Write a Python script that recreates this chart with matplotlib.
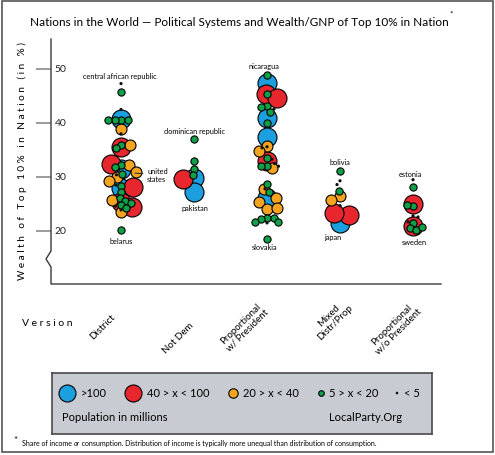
import numpy as np
import matplotlib.pyplot as plt
from matplotlib.patches import Rectangle

W, H = 495, 456

systems = ['District', 'Not Dem', 'Proportional\nw/ President',
           'Mixed\nDistr/Prop', 'Proportional\nw/o President']
pop_classes = ['>100', '40 > x < 100', '20 > x < 40', '5 > x < 20', '< 5']

# wealth share of the top 10% (%), one list per population class (same order as pop_classes)
district = [[40.7, 31.5, 28.0],
            [35.6, 32.5, 28.1, 25.3, 24.4],
            [38.8, 36.0, 32.3, 31.0, 30.0, 29.2, 25.8, 23.5],
            [45.7, 40.5, 40.5, 40.5, 40.5, 36.0, 35.4, 32.2, 31.8, 30.6,
             28.4, 27.2, 26.1, 25.6, 25.2, 24.8, 24.2, 20.1],
            [47.3, 42.5, 38.0, 30.4, 28.5, 24.6, 23.9]]
not_dem = [[29.9, 27.3],
           [29.6],
           [],
           [37.0, 32.9, 31.5, 30.4],
           []]
prop_pres = [[47.5, 40.9, 37.5, 26.2],
             [45.4, 44.6, 33.0],
             [35.7, 34.9, 31.6, 27.8, 26.2, 25.4, 24.1, 24.2],
             [48.8, 45.3, 43.1, 42.9, 42.1, 40.0, 33.5, 32.1, 32.0, 28.7,
              27.3, 22.4, 22.4, 22.2, 21.6, 21.6, 18.6],
             [42.6, 35.6, 35.4, 33.3, 32.5, 32.0, 27.8, 21.5]]
mixed = [[21.5],
         [23.0, 23.3],
         [26.4, 25.8],
         [31.2, 27.4],
         [29.3, 28.6, 24.7]]
prop_no_pres = [[],
                [25.0, 20.9],
                [],
                [28.2, 24.7, 24.9, 21.5, 20.5, 20.2, 20.7],
                [29.5, 22.8, 22.6, 21.7]]
system_data = [district, not_dem, prop_pres, mixed, prop_no_pres]

named = ['central african republic', 'belarus', 'united\nstates', 'dominican republic',
         'pakistan', 'nicaragua', 'slovakia', 'bolivia', 'japan', 'estonia', 'sweden']
named_system = [0, 0, 0, 1, 1, 2, 2, 3, 3, 4, 4]
named_wealth = [47.3, 20.1, 30.4, 37.0, 27.3, 48.8, 18.6, 31.2, 21.5, 29.5, 20.9]
# label offset from the point, in pixels
named_offset = [(-1, 8), (0, -10), (12, -1), (0, 9), (1, -15.5), (-3, 9.5),
                (-2, -8), (0, 9), (-7, -14), (-3, 6.5), (1, -15.5)]

colors = ['#1c9fdf', '#e8262e', '#f5a422', '#10a048', '#111111']
radius = [9.5, 9.5, 5.5, 3.6, 1.6]
# how close two circles may come, as a share of their summed radii
overlap = np.array([[0.6, 0.6, 0.6, 0.0, 0.0],
                    [0.6, 0.6, 0.6, 0.0, 0.0],
                    [0.6, 0.6, 0.85, 0.6, 0.0],
                    [0.0, 0.0, 0.6, 0.85, 0.9],
                    [0.0, 0.0, 0.0, 0.9, 1.5]])

x_scale, y_scale = 73.0, 5.4   # pixels per system step / per percent


def swarm(groups):
    # big circles first, each pushed sideways only as far as it needs
    placed, out, n = [], [], 0
    for cls, vals in enumerate(groups):
        r = radius[cls]
        xs = []
        for v in vals:
            y = v * y_scale
            side = 1 if n % 2 else -1
            n += 1
            hit = 0.0
            for step in np.arange(0, 80, 0.5):
                ok = [dx for dx in (side * step, -side * step)
                      if all(np.hypot(dx - px, y - py) >= overlap[cls, pc] * (r + pr)
                             for px, py, pr, pc in placed)]
                if ok:
                    hit = ok[0]
                    break
            placed.append((hit, y, r, cls))
            xs.append(hit)
        out.append(xs)
    return out


def fx(x):
    return x / W


def fy(y):
    return 1 - y / H


plt.rcParams['font.family'] = ['Lato', 'DejaVu Sans']
fig = plt.figure(figsize=(W / 100, H / 100), dpi=100)

ax = fig.add_axes([fx(51), fy(285), 390 / W, 245 / H])
ax.set_xlim(-70 / x_scale, 4 + 28 / x_scale)
ax.set_ylim(20 - 53 / y_scale, 20 + 192 / y_scale)
ax.set_facecolor('none')
for s in ax.spines.values():
    s.set_visible(False)
ax.set_xticks([])
ax.set_yticks([20, 30, 40, 50])
ax.tick_params(axis='y', length=15 * 0.72, width=1.2, color='#8a8a8a',
               labelleft=False, direction='out')
for v in [20, 30, 40, 50]:
    ax.text(0.01, v, str(v), transform=ax.get_yaxis_transform(),
            ha='left', va='center', fontsize=7.5, color='#222222')

# broken axis line
px_line = [(51, 40), (51, 252), (46, 260), (51, 268), (51, 285), (441, 285)]
fig.add_artist(plt.Line2D([fx(p[0]) for p in px_line], [fy(p[1]) for p in px_line],
                          transform=fig.transFigure, color='#3a3a3a', lw=1))

for i, groups in enumerate(system_data):
    offs = swarm(groups)
    for cls, vals in enumerate(groups):
        if not vals:
            continue
        ax.scatter(i + np.array(offs[cls]) / x_scale, vals,
                   s=(2 * radius[cls] * 0.72) ** 2, c=colors[cls],
                   edgecolors='black' if cls < 4 else 'none', linewidths=0.8,
                   zorder=2 + cls, clip_on=False)

for name, si, v, (dx, dy) in zip(named, named_system, named_wealth, named_offset):
    if '\n' in name:
        ax.annotate(name, xy=(si + 14 / x_scale, v + 0.3), xytext=(dx, dy),
                    textcoords='offset pixels', ha='left', va='center', fontsize=5.3,
                    zorder=10,
                    arrowprops=dict(arrowstyle='-', lw=0.8, color='#333333',
                                    shrinkA=1, shrinkB=0))
    else:
        ax.annotate(name, xy=(si, v), xytext=(dx, dy), textcoords='offset pixels',
                    ha='center', va='center', fontsize=5.3, zorder=10)

label_offset = [(-18, -42), (-16, -53), (-23, -42), (-8, -34), (-18, -43)]
for i, (lab, (dx, dy)) in enumerate(zip(systems, label_offset)):
    ax.annotate(lab, xy=(i, 0), xycoords=ax.get_xaxis_transform(), xytext=(dx, dy),
                textcoords='offset pixels', ha='center', va='center',
                multialignment='center', rotation=45, fontsize=7, linespacing=1.0)

fig.text(fx(30), fy(22), 'Nations in the World \u2014 Political Systems and Wealth/GNP of Top 10% in Nation',
         ha='left', va='center', fontsize=8.45)
fig.text(fx(449), fy(14), '*', ha='left', va='center', fontsize=6)
fig.text(fx(22), fy(161), 'W e a l t h   o f   T o p   1 0 %   i n   N a t i o n   ( i n   % )',
         rotation=90, ha='center', va='center', fontsize=7.2)
fig.text(fx(22), fy(323), 'V e r s i o n', ha='left', va='center', fontsize=7.5)

# legend box
lax = fig.add_axes([fx(52), fy(435), 380 / W, 61 / H])
lax.set_xlim(52, 432)
lax.set_ylim(435, 374)
lax.set_facecolor('#c9cbd3')
for s in lax.spines.values():
    s.set_color('#4a4a4a')
    s.set_linewidth(1.2)
lax.set_xticks([])
lax.set_yticks([])
key_r = [8.5, 8.5, 4.7, 2.8, 1.3]
key_x = [67, 133, 233, 321, 397]
for cls in range(5):
    lax.scatter(key_x[cls], 394, s=(2 * key_r[cls] * 0.72) ** 2, c=colors[cls],
                edgecolors='black' if cls < 4 else 'none', linewidths=0.8)
    lax.text(key_x[cls] + key_r[cls] + 5.5, 394, pop_classes[cls], ha='left',
             va='center', fontsize=8)
lax.text(62, 418, 'Population in millions', ha='left', va='center', fontsize=8)
lax.text(329, 418, 'LocalParty.Org', ha='left', va='center', fontsize=8)

# footnote
fig.text(fx(13), fy(441), '*', ha='left', va='center', fontsize=7)
renderer = fig.canvas.get_renderer()
x = fx(22)
for part, style in [('Share of income ', 'normal'), ('or', 'italic'),
                    (' consumption. Distribution of income is typically more unequal than distribution of consumption.', 'normal')]:
    t = fig.text(x, fy(444), part, ha='left', va='center', fontsize=5, style=style)
    x = fig.transFigure.inverted().transform((t.get_window_extent(renderer).x1, 0))[0]

fig.add_artist(Rectangle((fx(2), fy(453)), 491 / W, 451 / H, transform=fig.transFigure,
                         fill=False, ec='#555555', lw=1.2))

fig.savefig('out.png', dpi=100)
